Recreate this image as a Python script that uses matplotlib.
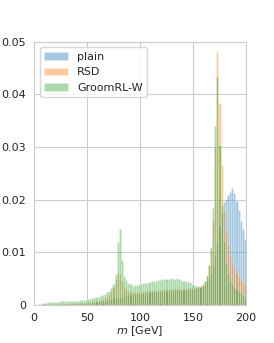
import numpy as np
import seaborn as sns
import matplotlib
matplotlib.use("Agg")
from matplotlib import pyplot as plt
from matplotlib.ticker import FuncFormatter

# 2 GeV bins, 0..200
edges = np.arange(0, 202, 2)

plain = [0, 0, 0, 0, 0, 0, 0, 0, 0.0001, 0.0001,
         0.0001, 0.0001, 0.0001, 0.0001, 0.0001, 0.0001, 0.0002, 0.0002, 0.0002, 0.0002,
         0.0002, 0.0003, 0.0003, 0.0003, 0.0003, 0.0004, 0.0004, 0.0005, 0.0005, 0.0006,
         0.0006, 0.0007, 0.0008, 0.0008, 0.0009, 0.0010, 0.0011, 0.0012, 0.0013, 0.0014,
         0.0015, 0.0016, 0.0017, 0.0018, 0.0019, 0.0019, 0.0020, 0.0020, 0.0021, 0.0021,
         0.0022, 0.0022, 0.0023, 0.0023, 0.0024, 0.0024, 0.0025, 0.0025, 0.0025, 0.0026,
         0.0026, 0.0026, 0.0027, 0.0027, 0.0027, 0.0028, 0.0028, 0.0028, 0.0029, 0.0029,
         0.0029, 0.0030, 0.0030, 0.0031, 0.0031, 0.0032, 0.0033, 0.0034, 0.0036, 0.0038,
         0.0040, 0.0045, 0.0052, 0.0060, 0.0075, 0.0095, 0.0120, 0.0150, 0.0175, 0.0195,
         0.0202, 0.0208, 0.0215, 0.0222, 0.0212, 0.0198, 0.0180, 0.0160, 0.0145, 0.0125]

rsd = [0, 0, 0, 0, 0.0001, 0.0001, 0.0001, 0.0001, 0.0001, 0.0001,
       0.0001, 0.0001, 0.0002, 0.0002, 0.0002, 0.0002, 0.0002, 0.0003, 0.0003, 0.0003,
       0.0003, 0.0004, 0.0004, 0.0004, 0.0005, 0.0005, 0.0006, 0.0006, 0.0007, 0.0008,
       0.0009, 0.0010, 0.0011, 0.0013, 0.0015, 0.0018, 0.0025, 0.0035, 0.0050, 0.0060,
       0.0058, 0.0045, 0.0035, 0.0030, 0.0027, 0.0025, 0.0024, 0.0024, 0.0024, 0.0024,
       0.0025, 0.0025, 0.0026, 0.0026, 0.0027, 0.0027, 0.0028, 0.0028, 0.0028, 0.0029,
       0.0029, 0.0029, 0.0030, 0.0030, 0.0030, 0.0030, 0.0031, 0.0031, 0.0031, 0.0031,
       0.0031, 0.0031, 0.0032, 0.0032, 0.0032, 0.0032, 0.0033, 0.0034, 0.0036, 0.0040,
       0.0046, 0.0056, 0.0075, 0.0105, 0.0160, 0.0300, 0.0480, 0.0384, 0.0266, 0.0180,
       0.0140, 0.0115, 0.0095, 0.0082, 0.0072, 0.0063, 0.0055, 0.0048, 0.0043, 0.0040]

groomrl = [0, 0, 0.0001, 0.0002, 0.0003, 0.0004, 0.0005, 0.0005, 0.0006, 0.0006,
           0.0006, 0.0006, 0.0007, 0.0007, 0.0007, 0.0007, 0.0007, 0.0008, 0.0008, 0.0008,
           0.0008, 0.0009, 0.0009, 0.0010, 0.0010, 0.0011, 0.0012, 0.0013, 0.0014, 0.0015,
           0.0016, 0.0018, 0.0019, 0.0021, 0.0024, 0.0027, 0.0032, 0.0040, 0.0058, 0.0120,
           0.0145, 0.0085, 0.0055, 0.0048, 0.0042, 0.0040, 0.0036, 0.0038, 0.0037, 0.0038,
           0.0040, 0.0041, 0.0042, 0.0042, 0.0044, 0.0045, 0.0045, 0.0046, 0.0048, 0.0048,
           0.0049, 0.0050, 0.0050, 0.0050, 0.0051, 0.0050, 0.0050, 0.0051, 0.0049, 0.0048,
           0.0046, 0.0046, 0.0044, 0.0043, 0.0040, 0.0038, 0.0036, 0.0036, 0.0035, 0.0038,
           0.0045, 0.0055, 0.0075, 0.0110, 0.0185, 0.0340, 0.0434, 0.0304, 0.0190, 0.0120,
           0.0080, 0.0060, 0.0048, 0.0040, 0.0035, 0.0030, 0.0026, 0.0022, 0.0019, 0.0016]

labels = ["plain", "RSD", "GroomRL-W"]

sns.set_style("whitegrid")
plt.rcParams['font.family'] = ['DejaVu Sans']

fig = plt.figure(figsize=(2.74, 3.43), dpi=100)
ax = fig.add_axes([0.124, 0.111, 0.774, 0.767])

centers = edges[:-1]
for vals, lab in zip([plain, rsd, groomrl], labels):
    ax.bar(centers, vals, width=2, align='edge', alpha=0.4, label=lab,
           edgecolor='white', linewidth=0.4)

ax.set_xlim(0, 200)
ax.set_ylim(0, 0.05)
ax.set_xticks([0, 50, 100, 150, 200])
ax.set_yticks([0, 0.01, 0.02, 0.03, 0.04, 0.05])
ax.yaxis.set_major_formatter(FuncFormatter(lambda v, p: "0" if v == 0 else "%.2f" % v))
ax.tick_params(labelsize=8, pad=2, colors='#262626')
ax.set_xlabel("$m$ [GeV]", fontsize=8, labelpad=1)
ax.legend(loc='upper left', fontsize=8, handlelength=2.2)

plt.savefig("out.png", dpi=100)
